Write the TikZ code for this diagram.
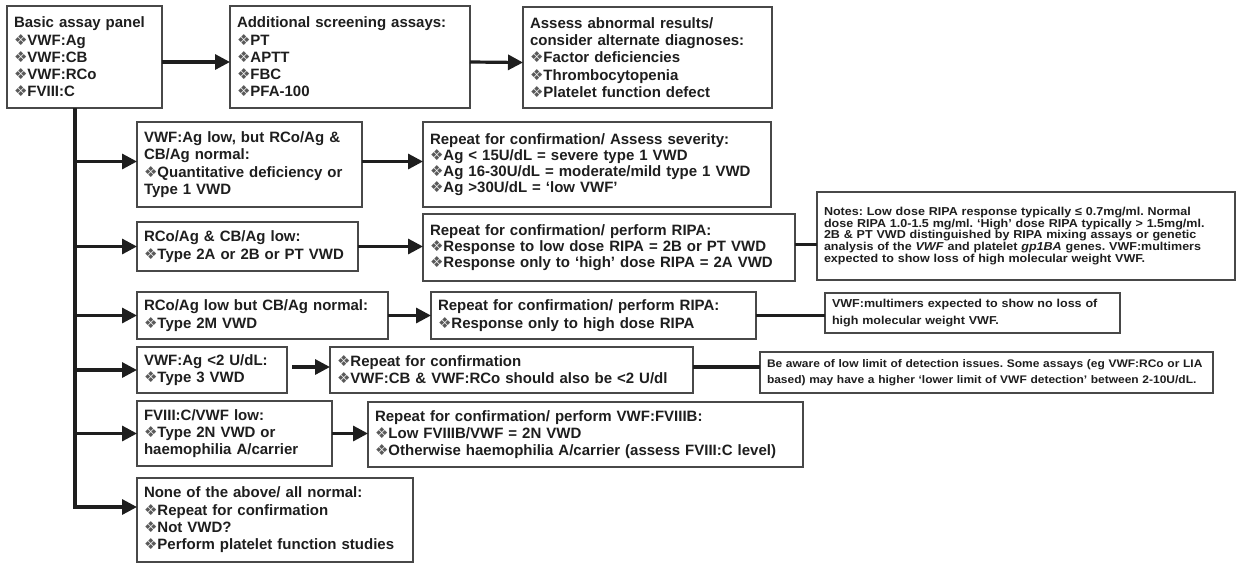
\documentclass[tikz,border=0pt]{standalone}
\usepackage{fontspec}
\setmainfont{Liberation Sans}
\newfontfamily\notefont{Liberation Sans}[FakeStretch=1.09]
\newfontfamily\dvfont{DejaVu Sans}
\usetikzlibrary{arrows.meta}
\newcommand{\dm}{{\dvfont\mdseries\fontsize{15}{15}\selectfont\color{black!65}\char"2756}}
\definecolor{txt}{HTML}{1E1E1E}
\definecolor{edge}{HTML}{484848}
\tikzset{
  bx/.style={draw=edge, line width=1.3pt, anchor=north west, inner xsep=7pt, inner ysep=2pt, outer sep=0pt,
    align=left, text=txt, font=\bfseries\fontsize{15}{17.3}\selectfont},
  tight/.style={font=\bfseries\fontsize{15}{16.2}\selectfont},
  note/.style={font=\notefont\bfseries\fontsize{11.5}{11.7}\selectfont},
  notew/.style={font=\notefont\bfseries\fontsize{11.5}{16.5}\selectfont},
  notes/.style={font=\notefont\bfseries\fontsize{11}{16.5}\selectfont},
  arr/.style={line width=3.2pt, draw=txt, -{Triangle[length=15pt,width=15pt]}},
  ln/.style={line width=3.2pt, draw=txt}
}
\frenchspacing
\begin{document}
\begin{tikzpicture}[x=1pt,y=-1pt]
\useasboundingbox (0,0) rectangle (1251,563);
% top row
\node[bx, minimum width=155pt, minimum height=102pt, text width=141pt] (B1) at (7,6)
  {Basic assay panel\\\dm VWF:Ag\\\dm VWF:CB\\\dm VWF:RCo\\\dm FVIII:C};
\node[bx, minimum width=240pt, minimum height=102pt, text width=226pt] (B2) at (230,6)
  {Additional screening assays:\\\dm PT\\\dm APTT\\\dm FBC\\\dm PFA-100};
\node[bx, minimum width=249pt, minimum height=101pt, text width=235pt] (B3) at (523,7)
  {Assess abnormal results/\\consider alternate diagnoses:\\\dm Factor deficiencies\\\dm Thrombocytopenia\\\dm Platelet function defect};
% left column
\node[bx, minimum width=225pt, minimum height=85pt, text width=211pt] (L1) at (137,122)
  {VWF:Ag low, but RCo/Ag \&\\CB/Ag normal:\\\dm Quantitative deficiency or\\Type 1 VWD};
\node[bx, minimum width=221pt, minimum height=49pt, text width=207pt] (L2) at (137,222)
  {RCo/Ag \& CB/Ag low:\\\dm Type 2A or 2B or PT VWD};
\node[bx, minimum width=251pt, minimum height=47pt, text width=237pt] (L3) at (137,292)
  {RCo/Ag low but CB/Ag normal:\\\dm Type 2M VWD};
\node[bx, minimum width=150pt, minimum height=46pt, text width=136pt] (L4) at (137,347)
  {VWF:Ag {<}2 U/dL:\\\dm Type 3 VWD};
\node[bx, minimum width=195pt, minimum height=65pt, text width=181pt] (L5) at (137,401)
  {FVIII:C/VWF low:\\\dm Type 2N VWD or\\haemophilia A/carrier};
\node[bx, minimum width=276pt, minimum height=84pt, text width=262pt] (L6) at (137,478)
  {None of the above/ all normal:\\\dm Repeat for confirmation\\\dm Not VWD?\\\dm Perform platelet function studies};
% right column
\node[bx, tight, minimum width=348pt, minimum height=85pt, text width=334pt] (R1) at (423,122)
  {Repeat for confirmation/ Assess severity:\\\dm Ag {<} 15U/dL = severe type 1 VWD\\\dm Ag 16-30U/dL = moderate/mild type 1 VWD\\\dm Ag {>}30U/dL = ‘low VWF’};
\node[bx, tight, minimum width=372pt, minimum height=67pt, text width=358pt] (R2) at (423,214)
  {Repeat for confirmation/ perform RIPA:\\\dm Response to low dose RIPA = 2B or PT VWD\\\dm Response only to ‘high’ dose RIPA = 2A VWD};
\node[bx, minimum width=325pt, minimum height=47pt, text width=311pt] (R3) at (431,292)
  {Repeat for confirmation/ perform RIPA:\\\dm Response only to high dose RIPA};
\node[bx, minimum width=363pt, minimum height=46pt, text width=349pt] (R4) at (330,347)
  {\dm Repeat for confirmation\\\dm VWF:CB \& VWF:RCo should also be {<}2 U/dl};
\node[bx, minimum width=435pt, minimum height=65pt, text width=421pt] (R5) at (368,402)
  {Repeat for confirmation/ perform VWF:FVIIIB:\\\dm Low FVIIIB/VWF = 2N VWD\\\dm Otherwise haemophilia A/carrier (assess FVIII:C level)};
% notes
\node[bx, note, minimum width=418pt, minimum height=88pt, text width=404pt] (N2) at (817,192)
  {Notes: Low dose RIPA response typically ≤ 0.7mg/ml. Normal\\dose RIPA 1.0-1.5 mg/ml. ‘High’ dose RIPA typically {>} 1.5mg/ml.\\2B \& PT VWD distinguished by RIPA mixing assays or genetic\\analysis of the \textit{VWF} and platelet \textit{gp1BA} genes. VWF:multimers\\expected to show loss of high molecular weight VWF.};
\node[bx, notew, minimum width=295pt, minimum height=40pt, text width=281pt] (N3) at (825,293)
  {VWF:multimers expected to show no loss of\\high molecular weight VWF.};
\node[bx, notes, minimum width=453pt, minimum height=41pt, text width=439pt] (N4) at (760,352)
  {Be aware of low limit of detection issues. Some assays (eg VWF:RCo or LIA\\based) may have a higher ‘lower limit of VWF detection’ between 2-10U/dL.};
% connectors top row
\draw[arr] ([yshift=-5pt]B1.east) -- ([yshift=-5pt]B2.west);
\draw[arr] ([yshift=-5pt]B2.east) -- ([yshift=-5pt]B3.west);
% trunk
\coordinate (t0) at ([xshift=68pt]B1.south west);
\coordinate (e6) at ([yshift=13pt]L6.west);
\coordinate (e1) at ([yshift=3pt]L1.west);
\draw[arr] (t0) |- (e6);
\draw[arr] (t0 |- e1) -- (e1);
\draw[arr] (t0 |- L2.west) -- (L2.west);
\draw[arr] (t0 |- L3.west) -- (L3.west);
\draw[arr] (t0 |- L4.west) -- (L4.west);
\draw[arr] (t0 |- L5.west) -- (L5.west);
% left to right
\draw[arr] ([yshift=3pt]L1.east) -- ([yshift=3pt]L1.east -| R1.west);
\draw[arr] (L2.east) -- (L2.east -| R2.west);
\draw[arr] (L3.east) -- (L3.east -| R3.west);
\draw[arr] ([xshift=5pt,yshift=3pt]L4.east) -- ([yshift=3pt]L4.east -| R4.west);
\draw[arr] (L5.east) -- (L5.east -| R5.west);
% to notes
\draw[ln] ([yshift=3pt]R2.east) -- ([yshift=3pt]R2.east -| N2.west);
\draw[ln] (R3.east) -- (R3.east -| N3.west);
\draw[ln] ([yshift=3pt]R4.east) -- ([yshift=3pt]R4.east -| N4.west);
\end{tikzpicture}
\end{document}
